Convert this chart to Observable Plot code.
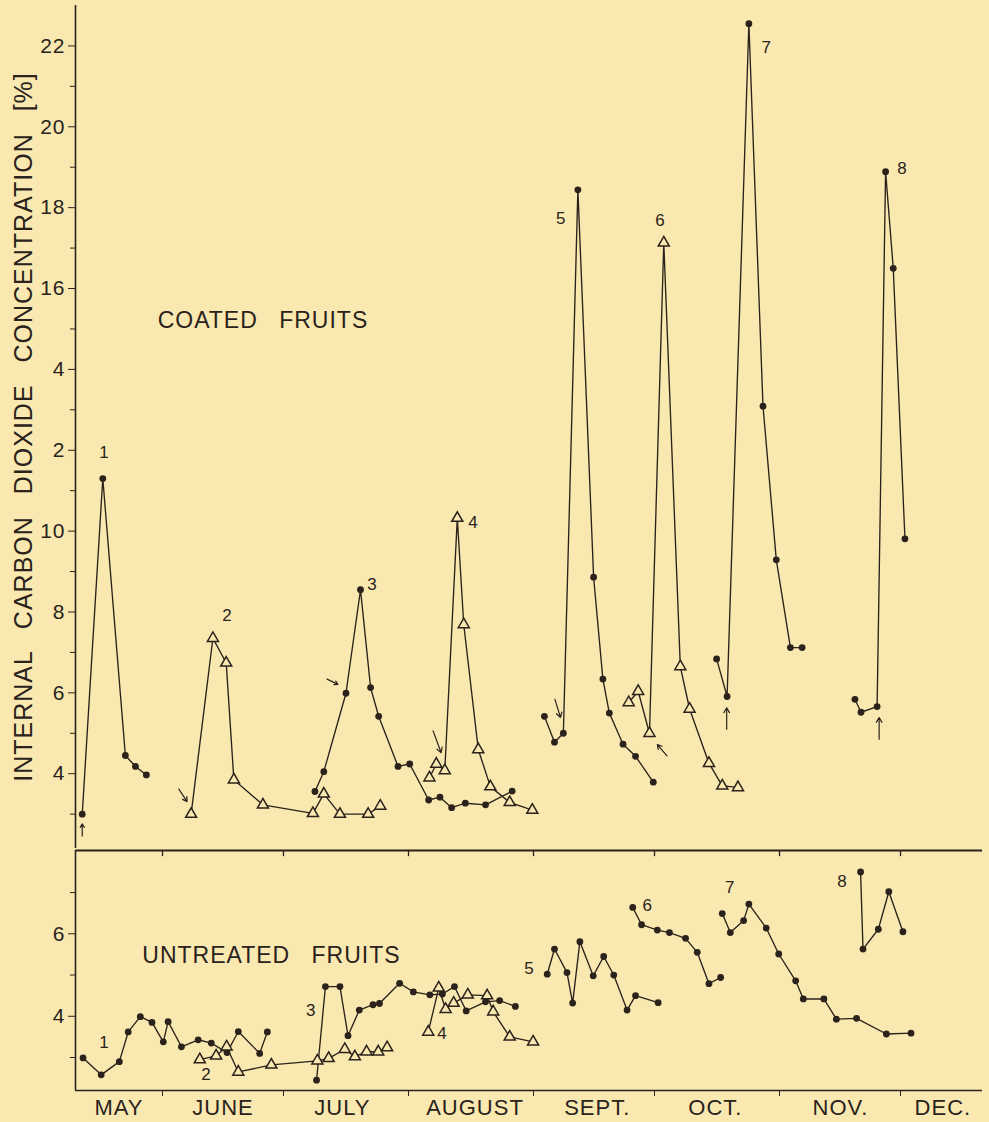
<!DOCTYPE html>
<html>
<head>
<meta charset="utf-8">
<script src="https://cdn.jsdelivr.net/npm/d3@7"></script>
<script src="https://cdn.jsdelivr.net/npm/@observablehq/plot@0.6"></script>
<style>
html, body { margin: 0; padding: 0; background: #f9e9b1; }
#chart { width: 989px; height: 1122px; overflow: hidden; }
#chart svg { display: block; }
</style>
</head>
<body>
<div id="chart"></div>
<script>
// ---------- DATA: [month, day of month, CO2 %] ----------
// Coated fruits (top panel)
const coated1 = [[5,12.1,3.0],[5,17.2,11.3],[5,22.8,4.45],[5,25.3,4.18],[5,28.0,3.97]];
const coated2 = [[6,8.1,3.0],[6,13.5,7.35],[6,16.8,6.74],[6,18.7,3.85],[6,25.9,3.23],[7,8.3,3.02],[7,11.0,3.5],[7,15.0,3.0],[7,22.0,3.0],[7,25.0,3.2]];
const coated3 = [[7,8.8,3.56],[7,11.0,4.05],[7,16.5,5.99],[7,20.1,8.55],[7,22.6,6.13],[7,24.6,5.42],[7,29.4,4.18],[8,1.3,4.24],[8,6.0,3.35],[8,8.8,3.42],[8,11.7,3.16],[8,15.1,3.27],[8,20.1,3.23],[8,26.7,3.57]];
const coated4 = [[8,6.2,3.9],[8,7.9,4.24],[8,10.0,4.08],[8,13.1,10.32],[8,14.7,7.69],[8,18.3,4.6],[8,21.3,3.68],[8,26.1,3.29],[8,31.7,3.1]];
const coated5 = [[9,3.7,5.42],[9,6.2,4.78],[9,8.4,5.0],[9,12.0,18.44],[9,15.9,8.86],[9,18.2,6.34],[9,19.8,5.5],[9,23.2,4.73],[9,26.3,4.43],[9,30.7,3.79]];
const coated6 = [[9,24.6,5.76],[9,26.95,6.04],[9,29.75,5.0],[10,3.3,17.13],[10,7.4,6.65],[10,9.7,5.6],[10,14.5,4.26],[10,17.8,3.7],[10,21.7,3.66]];
const coated7 = [[10,16.4,6.84],[10,19.0,5.91],[10,24.4,22.55],[10,27.9,13.09],[10,31.2,9.29],[11,3.7,7.12],[11,6.6,7.12]];
const coated8 = [[11,19.7,5.84],[11,21.2,5.52],[11,25.2,5.66],[11,27.3,18.89],[11,29.2,16.5],[12,2.1,9.81]];

// Untreated fruits (bottom panel)
const untreated1 = [[5,12.3,2.99],[5,16.8,2.58],[5,21.3,2.90],[5,23.5,3.62],[5,26.5,3.99],[5,29.4,3.85],[6,1.2,3.38],[6,2.4,3.87],[6,5.7,3.26],[6,9.85,3.43],[6,13.1,3.35],[6,17.0,3.12],[6,19.8,3.63],[6,25.1,3.10],[6,27.0,3.62]];
const untreated2 = [[6,10.25,2.95],[6,14.3,3.04],[6,16.9,3.26],[6,19.8,2.65],[6,28.0,2.82],[7,9.4,2.92],[7,12.2,2.98],[7,16.2,3.2],[7,18.7,3.02],[7,21.6,3.14],[7,24.5,3.14],[7,26.7,3.24]];
const untreated3 = [[7,9.2,2.45],[7,11.4,4.72],[7,15.0,4.72],[7,17.0,3.53],[7,19.8,4.15],[7,23.2,4.28],[7,24.8,4.31],[7,29.8,4.80],[8,2.2,4.59],[8,6.3,4.52],[8,9.4,4.54],[8,12.4,4.72],[8,15.3,4.13],[8,20.1,4.35],[8,23.6,4.38],[8,27.5,4.24]];
const untreated4 = [[8,5.9,3.62],[8,8.5,4.69],[8,10.2,4.17],[8,12.2,4.32],[8,15.7,4.52],[8,20.5,4.50],[8,22.0,4.11],[8,26.1,3.50],[8,31.9,3.38]];
const untreated5 = [[9,4.4,5.02],[9,6.2,5.63],[9,9.3,5.06],[9,10.7,4.32],[9,12.5,5.81],[9,15.8,4.98],[9,18.4,5.45],[9,20.9,5.0],[9,24.2,4.15],[9,26.3,4.5],[10,1.9,4.33]];
const untreated6 = [[9,25.6,6.64],[9,27.8,6.22],[10,1.7,6.09],[10,4.7,6.03],[10,8.7,5.89],[10,11.6,5.55],[10,14.5,4.79],[10,17.4,4.94]];
const untreated7 = [[10,17.8,6.49],[10,19.8,6.03],[10,23.1,6.32],[10,24.4,6.72],[10,28.7,6.14],[10,31.8,5.51],[11,5.0,4.86],[11,6.9,4.42],[11,12.0,4.42],[11,15.1,3.93],[11,20.1,3.95],[11,27.5,3.57],[12,3.6,3.59]];
const untreated8 = [[11,21.1,7.50],[11,21.7,5.63],[11,25.5,6.11],[11,28.1,7.02],[12,1.6,6.05]];

// Experiment numbers written beside the curves: [text, month, day, value]
const coatedLabels = [["1",5,17.6,11.95],["2",6,17.1,7.9],["3",7,23.1,8.67],["4",8,17.1,10.2],["5",9,7.9,17.73],["6",10,2.5,17.68],["7",10,28.8,21.96],["8",12,1.5,18.97]];
const untreatedLabels = [["1",5,17.6,3.36],["2",6,11.9,2.58],["3",7,7.9,4.13],["4",8,9.4,3.58],["5",8,31.0,5.15],["6",9,29.3,6.68],["7",10,19.8,7.12],["8",11,16.6,7.26]];

// Arrows (coating applied): [month1, day1, value1, month2, day2, value2] (head at point 2)
const coatedArrows = [
  [5,12.1,2.46, 5,12.1,2.76],
  [6,5.05,3.62, 6,7.1,3.31],
  [7,11.8,6.34, 7,14.5,6.21],
  [8,7.1,5.06, 8,9.1,4.52],
  [9,6.3,5.84, 9,7.7,5.39],
  [10,4.1,4.44, 10,1.7,4.72],
  [10,18.9,5.10, 10,18.9,5.63],
  [11,25.7,4.85, 11,25.7,5.39]
];

// Axis ticks and labels
const coatedMajorTicks = [4,6,8,10,12,14,16,18,20,22];
const coatedTickLabels = ["4","6","8","10","2","4","16","18","20","22"];
const coatedMinorTicks = [3,5,7,9,11,13,15,17,19,21];
const untreatedMajorTicks = [4,6];
const untreatedTickLabels = ["4","6"];
const untreatedMinorTicks = [3,5,7];
const monthStarts = [[6,1],[7,1],[8,1],[9,1],[10,1],[11,1],[12,1]];
const monthNames = ["MAY","JUNE","JULY","AUGUST","SEPT.","OCT.","NOV.","DEC."];
const monthLabelDays = [[5,21.2],[6,16.0],[7,15.6],[8,17.5],[9,16.8],[10,16.1],[11,16.1],[12,11.5]];

const panelTitles = {coated: ["COATED FRUITS",5,30.8,15.2], untreated: ["UNTREATED FRUITS",5,27.0,5.47]};
const yTitle = "INTERNAL CARBON DIOXIDE CONCENTRATION [%]";

// ---------- BUILD ----------
const YEAR = 1955;
const toDate = (m, d) => new Date(Date.UTC(YEAR, m - 1, 1) + (d - 1) * 864e5);
const ink = "#2a221b", bg = "#f9e9b1";
const font = "'Liberation Sans', Arial, sans-serif";
const xDomain = [toDate(5, 10.43), toDate(12, 21.33)];

function flatten(list) {
  return list.flatMap(s => s.values.map(([m, d, v]) => ({series: s.name, symbol: s.symbol, date: toDate(m, d), value: v})));
}
const coatedRows = flatten([
  {name: "1", symbol: "dot", values: coated1},
  {name: "2", symbol: "triangle", values: coated2},
  {name: "3", symbol: "dot", values: coated3},
  {name: "4", symbol: "triangle", values: coated4},
  {name: "5", symbol: "dot", values: coated5},
  {name: "6", symbol: "triangle", values: coated6},
  {name: "7", symbol: "dot", values: coated7},
  {name: "8", symbol: "dot", values: coated8}
]);
const untreatedRows = flatten([
  {name: "1", symbol: "dot", values: untreated1},
  {name: "2", symbol: "triangle", values: untreated2},
  {name: "3", symbol: "dot", values: untreated3},
  {name: "4", symbol: "triangle", values: untreated4},
  {name: "5", symbol: "dot", values: untreated5},
  {name: "6", symbol: "dot", values: untreated6},
  {name: "7", symbol: "dot", values: untreated7},
  {name: "8", symbol: "dot", values: untreated8}
]);
const toLabelRows = arr => arr.map(([t, m, d, v]) => ({text: t, date: toDate(m, d), value: v}));
const arrowRows = coatedArrows.map(([m1, d1, v1, m2, d2, v2]) => ({x1: toDate(m1, d1), y1: v1, x2: toDate(m2, d2), y2: v2}));
const monthStartDates = monthStarts.map(([m, d]) => toDate(m, d));
const monthLabelDates = monthLabelDays.map(([m, d]) => toDate(m, d));
const monthNameByTime = new Map(monthLabelDates.map((d, i) => [+d, monthNames[i]]));
const tickLabelMap = (ticks, labels) => new Map(ticks.map((t, i) => [t, labels[i]]));
const coatedTickMap = tickLabelMap(coatedMajorTicks, coatedTickLabels);
const untreatedTickMap = tickLabelMap(untreatedMajorTicks, untreatedTickLabels);

const styleBase = {background: bg, color: ink, fontFamily: font, letterSpacing: "1px", wordSpacing: "14px", overflow: "visible"};

function seriesMarks(rows) {
  return [
    Plot.line(rows, {x: "date", y: "value", z: "series", stroke: ink, strokeWidth: 1.35}),
    Plot.dot(rows.filter(r => r.symbol === "dot"), {x: "date", y: "value", r: 3.4, fill: ink}),
    Plot.dot(rows.filter(r => r.symbol === "triangle"), {x: "date", y: "value", symbol: "triangle", r: 4.1, fill: bg, stroke: ink, strokeWidth: 1.5})
  ];
}

const coatedDomainY = [2.15, 23];
const topPlot = Plot.plot({
  width: 989, height: 848,
  marginTop: 5, marginBottom: 0, marginLeft: 75, marginRight: 7,
  style: styleBase,
  x: {type: "utc", domain: xDomain, axis: null},
  y: {domain: coatedDomainY},
  marks: [
    Plot.ruleX([xDomain[0]], {stroke: ink, strokeWidth: 1.6}),
    Plot.axisY({ticks: coatedMajorTicks, tickFormat: d => coatedTickMap.get(d), tickSize: 7, tickPadding: 3, fontSize: 21, label: null, stroke: ink}),
    Plot.axisY({ticks: coatedMinorTicks, tickFormat: () => "", tickSize: 5, label: null, stroke: ink}),
    Plot.text([yTitle], {frameAnchor: "left", textAnchor: "middle", rotate: -90, dx: -52, fontSize: 25, fill: ink}),
    Plot.text([panelTitles.coated], {x: d => toDate(d[1], d[2]), y: d => d[3], text: d => d[0], textAnchor: "start", fontSize: 23, fill: ink}),
    ...seriesMarks(coatedRows),
    Plot.arrow(arrowRows, {x1: "x1", y1: "y1", x2: "x2", y2: "y2", stroke: ink, strokeWidth: 1.2, headLength: 7}),
    Plot.text(toLabelRows(coatedLabels), {x: "date", y: "value", text: "text", fontSize: 17, fill: ink})
  ]
});

const untreatedDomainY = [2.2, 8.02];
const bottomPlot = Plot.plot({
  width: 989, height: 274,
  marginTop: 2, marginBottom: 32, marginLeft: 75, marginRight: 7,
  style: styleBase,
  x: {type: "utc", domain: xDomain, axis: null},
  y: {domain: untreatedDomainY},
  marks: [
    Plot.ruleX([xDomain[0]], {stroke: ink, strokeWidth: 1.6}),
    Plot.ruleY([untreatedDomainY[1]], {stroke: ink, strokeWidth: 1.8}),
    Plot.ruleY([untreatedDomainY[0]], {stroke: ink, strokeWidth: 1.6}),
    Plot.ruleX(monthStartDates, {y1: untreatedDomainY[1], y2: untreatedDomainY[1] - 0.15, stroke: ink, strokeWidth: 1.3}),
    Plot.axisY({ticks: untreatedMajorTicks, tickFormat: d => untreatedTickMap.get(d), tickSize: 7, tickPadding: 3, fontSize: 21, label: null, stroke: ink}),
    Plot.axisY({ticks: untreatedMinorTicks, tickFormat: () => "", tickSize: 5, label: null, stroke: ink}),
    Plot.axisX({ticks: monthStartDates, tickFormat: () => "", tickSize: 6, label: null, stroke: ink}),
    Plot.axisX({ticks: monthLabelDates, tickFormat: d => monthNameByTime.get(+d), tickSize: 0, tickPadding: 9, fontSize: 22, label: null}),
    Plot.text([panelTitles.untreated], {x: d => toDate(d[1], d[2]), y: d => d[3], text: d => d[0], textAnchor: "start", fontSize: 23, fill: ink}),
    ...seriesMarks(untreatedRows),
    Plot.text(toLabelRows(untreatedLabels), {x: "date", y: "value", text: "text", fontSize: 17, fill: ink})
  ]
});

const chart = document.getElementById("chart");
chart.appendChild(topPlot);
chart.appendChild(bottomPlot);
</script>
</body>
</html>
